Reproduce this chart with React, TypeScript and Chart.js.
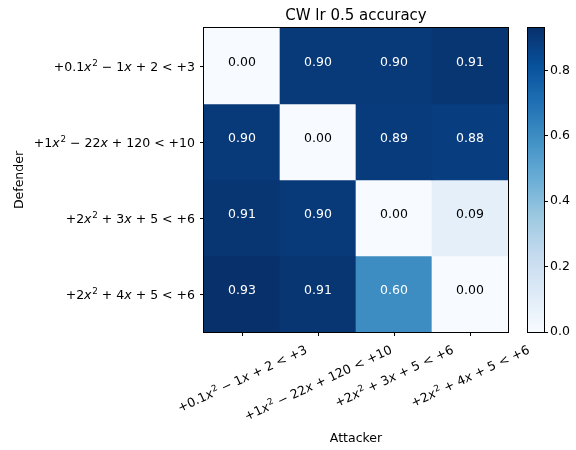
import React, { useEffect, useRef } from "react";
import { Chart, registerables } from "chart.js";

Chart.register(...registerables);

// ---------- data ----------
const chartTitle = "CW lr 0.5 accuracy";
const xAxisTitle = "Attacker";
const yAxisTitle = "Defender";

const attackers = [
  "+0.1x² − 1x + 2 < +3",
  "+1x² − 22x + 120 < +10",
  "+2x² + 3x + 5 < +6",
  "+2x² + 4x + 5 < +6",
];
const defenders = [
  "+0.1x² − 1x + 2 < +3",
  "+1x² − 22x + 120 < +10",
  "+2x² + 3x + 5 < +6",
  "+2x² + 4x + 5 < +6",
];

const defender0 = [0.0, 0.9, 0.9, 0.91];
const defender1 = [0.9, 0.0, 0.89, 0.88];
const defender2 = [0.91, 0.9, 0.0, 0.09];
const defender3 = [0.93, 0.91, 0.6, 0.0];
const accuracy = [defender0, defender1, defender2, defender3];

const colorbarTicks = [0, 0.2, 0.4, 0.6, 0.8];
const colorMin = 0;
const colorMax = 0.93;

// matplotlib "Blues"
const BLUES = [
  [247, 251, 255],
  [222, 235, 247],
  [198, 219, 239],
  [158, 202, 225],
  [107, 174, 214],
  [66, 146, 198],
  [33, 113, 181],
  [8, 81, 156],
  [8, 48, 107],
];

function blues(t: number): string {
  const tt = Math.max(0, Math.min(1, t));
  const pos = tt * (BLUES.length - 1);
  const i = Math.min(BLUES.length - 2, Math.floor(pos));
  const f = pos - i;
  const a = BLUES[i];
  const b = BLUES[i + 1];
  const c = a.map((v, k) => Math.round(v + (b[k] - v) * f));
  return `rgb(${c[0]},${c[1]},${c[2]})`;
}
function colorFor(v: number): string {
  return blues((v - colorMin) / (colorMax - colorMin));
}

// ---------- text helpers ----------
const FAMILY = '"DejaVu Sans", sans-serif';
const BASE = 12.5;
const SUP = BASE * 0.7;
const SPACE = 4.0;
const SUP_RAISE = 4.6;

type Run = { s: string; kind: "n" | "i" | "s" | "sp" };

function runsOf(text: string): Run[] {
  const runs: Run[] = [];
  for (const ch of text) {
    let kind: Run["kind"] = "n";
    if (ch === " ") kind = "sp";
    else if (ch === "x") kind = "i";
    else if (ch === "²") kind = "s";
    const last = runs[runs.length - 1];
    if (last && last.kind === kind && kind !== "sp") last.s += ch;
    else runs.push({ s: ch, kind });
  }
  return runs;
}
function setRunFont(ctx: CanvasRenderingContext2D, kind: Run["kind"]) {
  if (kind === "i") ctx.font = `italic ${BASE}px ${FAMILY}`;
  else if (kind === "s") ctx.font = `${SUP}px ${FAMILY}`;
  else ctx.font = `${BASE}px ${FAMILY}`;
}
function runText(r: Run) {
  return r.kind === "s" ? r.s.replace(/²/g, "2") : r.s;
}
function measureMath(ctx: CanvasRenderingContext2D, text: string): number {
  let w = 0;
  for (const r of runsOf(text)) {
    if (r.kind === "sp") {
      w += SPACE;
      continue;
    }
    setRunFont(ctx, r.kind);
    w += ctx.measureText(runText(r)).width + (r.kind === "s" ? 0.8 : 0);
  }
  return w;
}
function drawMath(
  ctx: CanvasRenderingContext2D,
  text: string,
  x: number,
  baseline: number,
  align: "left" | "center" | "right"
) {
  const w = measureMath(ctx, text);
  let cx = align === "left" ? x : align === "center" ? x - w / 2 : x - w;
  ctx.textAlign = "left";
  ctx.textBaseline = "alphabetic";
  for (const r of runsOf(text)) {
    if (r.kind === "sp") {
      cx += SPACE;
      continue;
    }
    setRunFont(ctx, r.kind);
    const t = runText(r);
    if (r.kind === "s") {
      ctx.fillText(t, cx + 0.8, baseline - SUP_RAISE);
      cx += ctx.measureText(t).width + 0.8;
    } else {
      ctx.fillText(t, cx, baseline);
      cx += ctx.measureText(t).width;
    }
  }
}

// ---------- plugins ----------
const heatmapDecor = {
  id: "heatmapDecor",
  afterDatasetsDraw(chart: any) {
    const { ctx, chartArea: a, scales } = chart;
    const xs = scales.x;
    const ys = scales.y;
    ctx.save();

    // cell annotations (baseline at cell centre, as matplotlib text default)
    ctx.font = `${BASE}px ${FAMILY}`;
    ctx.textAlign = "center";
    ctx.textBaseline = "alphabetic";
    accuracy.forEach((row, i) => {
      row.forEach((v, j) => {
        ctx.fillStyle = v > (colorMax + colorMin) / 2 ? "#ffffff" : "#000000";
        ctx.fillText(v.toFixed(2), xs.getPixelForValue(j), ys.getPixelForValue(i));
      });
    });

    // frame
    ctx.strokeStyle = "#000";
    ctx.lineWidth = 1;
    ctx.strokeRect(a.left - 0.5, a.top - 0.5, a.right - a.left + 1, a.bottom - a.top + 1);

    ctx.fillStyle = "#000";
    // y tick labels
    defenders.forEach((lab, i) => {
      drawMath(ctx, lab, a.left - 9, ys.getPixelForValue(i) + 5, "right");
    });

    // x tick labels, rotated 25deg, centred on tick
    const th = (25 * Math.PI) / 180;
    const H = 14.5;
    attackers.forEach((lab, j) => {
      const L = measureMath(ctx, lab);
      const bh = L * Math.sin(th) + H * Math.cos(th);
      const cx = xs.getPixelForValue(j);
      const cy = a.bottom + 10 + bh / 2;
      ctx.save();
      ctx.translate(cx, cy);
      ctx.rotate(-th);
      drawMath(ctx, lab, 0, 4.5, "center");
      ctx.restore();
    });

    // title
    const midX = (a.left + a.right) / 2;
    ctx.font = `15px ${FAMILY}`;
    ctx.textAlign = "center";
    ctx.textBaseline = "alphabetic";
    ctx.fillText(chartTitle, midX, a.top - 8);

    // axis titles
    ctx.font = `${BASE}px ${FAMILY}`;
    ctx.fillText(xAxisTitle, midX, 442);
    ctx.save();
    ctx.translate(23, (a.top + a.bottom) / 2);
    ctx.rotate(-Math.PI / 2);
    ctx.fillText(yAxisTitle, 0, 0);
    ctx.restore();

    ctx.restore();
  },
};

const colorbarDecor = {
  id: "colorbarDecor",
  beforeDatasetsDraw(chart: any) {
    const { ctx, chartArea: a, scales } = chart;
    const ys = scales.y;
    const top = ys.getPixelForValue(colorMax);
    const bottom = ys.getPixelForValue(colorMin);
    ctx.save();
    const g = ctx.createLinearGradient(0, bottom, 0, top);
    BLUES.forEach((c, k) => g.addColorStop(k / (BLUES.length - 1), `rgb(${c[0]},${c[1]},${c[2]})`));
    ctx.fillStyle = g;
    ctx.fillRect(a.left, top, a.right - a.left, bottom - top);
    ctx.strokeStyle = "#000";
    ctx.lineWidth = 1;
    ctx.strokeRect(a.left - 0.5, top - 0.5, a.right - a.left + 1, bottom - top + 1);
    ctx.restore();
  },
};

export default function App() {
  const mainRef = useRef<HTMLCanvasElement>(null);
  const cbRef = useRef<HTMLCanvasElement>(null);

  useEffect(() => {
    if (!mainRef.current || !cbRef.current) return;

    const datasets = defenders.map((d, i) => ({
      label: d,
      data: attackers.map(() => [i - 0.5, i + 0.5]),
      backgroundColor: attackers.map((_, j) => colorFor(accuracy[i][j])),
      borderWidth: 0,
      barPercentage: 1,
      categoryPercentage: 1,
      grouped: false,
    }));

    const main = new Chart(mainRef.current, {
      type: "bar",
      data: { labels: attackers, datasets: datasets as any },
      options: {
        animation: false,
        responsive: false,
        layout: { padding: { left: 200, top: 28, right: 68, bottom: 114 } },
        plugins: { legend: { display: false }, tooltip: { enabled: false }, title: { display: false } },
        scales: {
          x: {
            type: "category",
            offset: true,
            afterFit: (s: any) => {
              s.height = 4;
            },
            ticks: { display: false },
            grid: {
              display: true,
              offset: false,
              drawOnChartArea: false,
              drawTicks: true,
              tickLength: 4,
              color: "#000",
              lineWidth: 1,
            },
            border: { display: false },
          },
          y: {
            type: "linear",
            min: -0.5,
            max: 3.5,
            reverse: true,
            afterBuildTicks: (s: any) => {
              s.ticks = defenders.map((_, i) => ({ value: i }));
            },
            afterFit: (s: any) => {
              s.width = 4;
            },
            ticks: { display: false },
            grid: {
              display: true,
              drawOnChartArea: false,
              drawTicks: true,
              tickLength: 4,
              color: "#000",
              lineWidth: 1,
            },
            border: { display: false },
          },
        },
      },
      plugins: [heatmapDecor],
    });

    const cb = new Chart(cbRef.current, {
      type: "scatter",
      data: { datasets: [] },
      options: {
        animation: false,
        responsive: false,
        layout: { padding: { left: 528, top: 28, right: 2, bottom: 118 } },
        plugins: { legend: { display: false }, tooltip: { enabled: false } },
        scales: {
          x: { display: false },
          y: {
            type: "linear",
            position: "right",
            min: colorMin,
            max: colorMax,
            afterBuildTicks: (s: any) => {
              s.ticks = colorbarTicks.map((v) => ({ value: v }));
            },
            afterFit: (s: any) => {
              s.width = 30;
            },
            ticks: {
              callback: (v: any) => Number(v).toFixed(1),
              font: { size: BASE, family: FAMILY },
              color: "#000",
              padding: 2,
            },
            grid: {
              display: true,
              drawOnChartArea: false,
              drawTicks: true,
              tickLength: 4,
              color: "#000",
              lineWidth: 1,
            },
            border: { display: false },
          },
        },
      },
      plugins: [colorbarDecor],
    });

    return () => {
      main.destroy();
      cb.destroy();
    };
  }, []);

  return (
    <div style={{ position: "fixed", left: 0, top: 0, width: 576, height: 450, background: "#fff" }}>
      <canvas ref={mainRef} width={576} height={450} style={{ position: "absolute", left: 0, top: 0 }} />
      <canvas ref={cbRef} width={576} height={450} style={{ position: "absolute", left: 0, top: 0 }} />
    </div>
  );
}
